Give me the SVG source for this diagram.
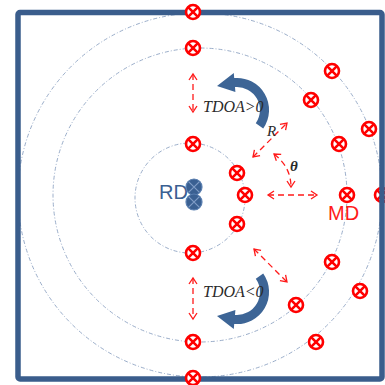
<svg xmlns="http://www.w3.org/2000/svg" width="385" height="385" viewBox="0 0 385 385">
<style>
.ring{fill:none;stroke:#8ea4c3;stroke-width:0.9;stroke-dasharray:4 2 1 2}
.dash{fill:none;stroke:#ff1a1a;stroke-width:1.3;stroke-dasharray:6 4}
.lbl{font-family:"Liberation Serif",serif;font-style:italic;fill:#2a2a2a}
.big{font-family:"Liberation Sans",Arial,sans-serif;font-size:20px}
.blue{fill:#3d6596}
</style>
<defs>
<g id="x" fill="#fff" stroke="#ff0000" stroke-width="2.6">
<circle r="7"/>
<path d="M-4.9,-4.9 L4.9,4.9 M-4.9,4.9 L4.9,-4.9" fill="none"/>
</g>
<g id="b" stroke="#7f9cc6" stroke-width="1.2">
<circle r="8" fill="#3a6092" stroke="#5a7fb0"/>
<path d="M-5.2,-5.2 L5.2,5.2 M-5.2,5.2 L5.2,-5.2"/>
</g>
<marker id="ah" markerUnits="userSpaceOnUse" markerWidth="12" markerHeight="12" refX="7" refY="5" orient="auto-start-reverse" viewBox="0 0 12 10">
<path d="M1,1 L7,5 L1,9" fill="none" stroke="#ff1a1a" stroke-width="1.3"/>
</marker>
<path id="carrow" d="M263.2,128.4 A32,32 0 0 0 234.2,78.1 L233.8,73.1 L217,86 L235.4,92.1 L235,87.1 A23,23 0 0 1 255.8,123.2 Z"/>
</defs>

<g id="rings">
<circle class="ring" cx="190" cy="198" r="55"/>
<circle class="ring" cx="200" cy="195" r="147"/>
<circle class="ring" cx="200" cy="195" r="182"/>
</g>

<g id="md-edge"><use href="#x" x="382" y="195"/></g>

<rect id="frame" x="18" y="12.5" width="364" height="366.5" rx="2" fill="none" stroke="#3a5d8c" stroke-width="5.5"/>

<g id="connectors">
<line class="dash" x1="193" y1="74" x2="193" y2="112" marker-start="url(#ah)" marker-end="url(#ah)"/>
<line class="dash" x1="193" y1="278" x2="193" y2="319" marker-start="url(#ah)" marker-end="url(#ah)"/>
<line class="dash" x1="253" y1="157" x2="287" y2="123" marker-start="url(#ah)" marker-end="url(#ah)"/>
<line class="dash" x1="254" y1="249" x2="287" y2="282" marker-start="url(#ah)" marker-end="url(#ah)"/>
<line class="dash" x1="268" y1="195" x2="317" y2="195" marker-start="url(#ah)" marker-end="url(#ah)"/>
<path class="dash" d="M274,154 Q291,167 291,187" stroke-dasharray="5 3" marker-start="url(#ah)" marker-end="url(#ah)"/>
<use id="rot-up" href="#carrow" class="blue"/>
<use id="rot-down" href="#carrow" class="blue" transform="matrix(1 0 0 -1 0 402)"/>
</g>

<g id="labels">
<text class="lbl" x="203" y="112" font-size="16">TDOA&gt;0</text>
<text class="lbl" x="203" y="297" font-size="16">TDOA&lt;0</text>
<text class="lbl" x="267" y="136" font-size="15" fill="#000">R</text>
<text class="lbl" x="290" y="171" font-size="15" font-weight="bold" fill="#000">θ</text>
</g>

<g id="RD">
<text class="big" x="159" y="199" fill="#3a6092">RD</text>
<use href="#b" x="194" y="187"/>
<use href="#b" x="194" y="202"/>
</g>

<g id="MD">
<text class="big" x="328" y="220" fill="#ff1a1a">MD</text>
<use href="#x" x="347" y="195"/>
</g>

<g id="md-nodes">
<use href="#x" x="193" y="12"/>
<use href="#x" x="193" y="48"/>
<use href="#x" x="332" y="71"/>
<use href="#x" x="311" y="100"/>
<use href="#x" x="369" y="129"/>
<use href="#x" x="339" y="144"/>
<use href="#x" x="193" y="144"/>
<use href="#x" x="237" y="173"/>
<use href="#x" x="245" y="195"/>
<use href="#x" x="237" y="224"/>
<use href="#x" x="193" y="253"/>
<use href="#x" x="332" y="262"/>
<use href="#x" x="360" y="291"/>
<use href="#x" x="296" y="305"/>
<use href="#x" x="316" y="342"/>
<use href="#x" x="193" y="342"/>
<use href="#x" x="193" y="378"/>
</g>
</svg>
